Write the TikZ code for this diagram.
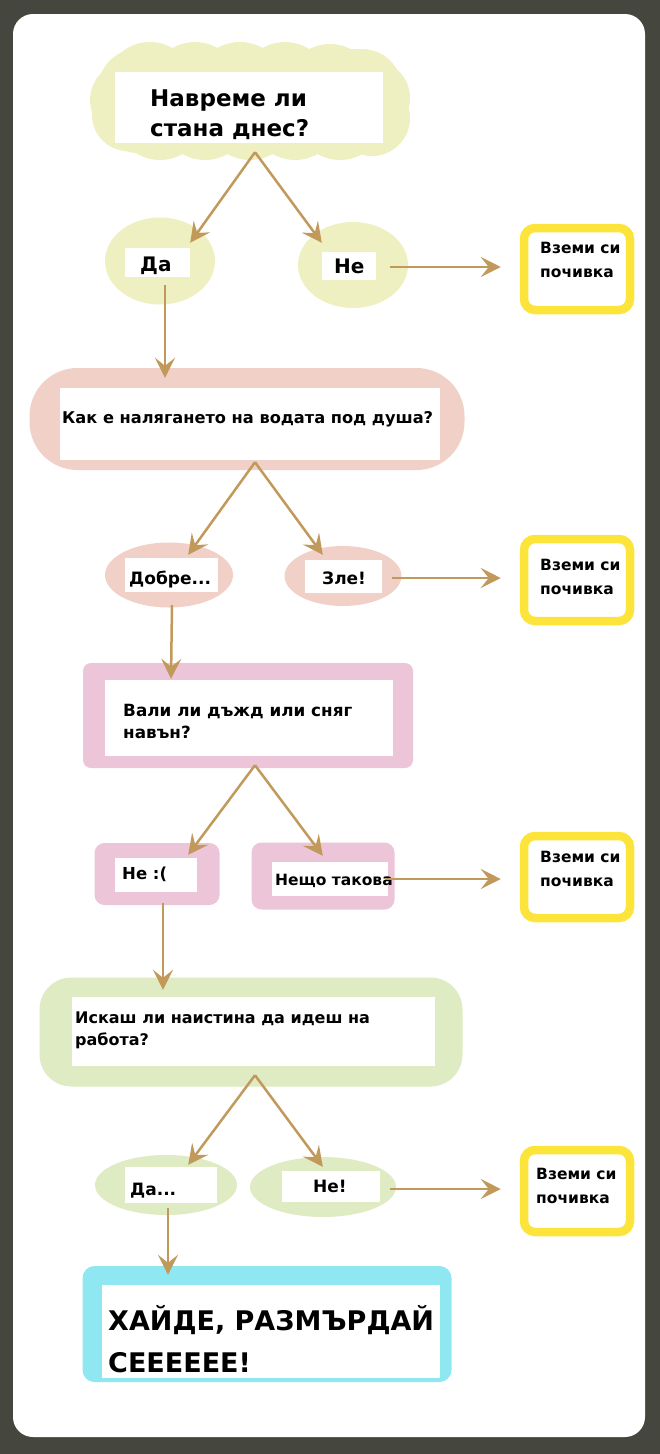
\documentclass[tikz,border=0pt]{standalone}
\usepackage{fontspec}
\setmainfont{DejaVu Sans}
\usetikzlibrary{shapes.symbols,shapes.geometric,arrows.meta}
\definecolor{bgc}{HTML}{45473F}
\definecolor{cream}{HTML}{EFF0C2}
\definecolor{salmon}{HTML}{F1D0C8}
\definecolor{mauve}{HTML}{ECC6D8}
\definecolor{lgreen}{HTML}{DFEBC3}
\definecolor{cyanc}{HTML}{8FE8F1}
\definecolor{yel}{HTML}{FCE43A}
\definecolor{arrowc}{HTML}{C19A5B}
\begin{document}
\begin{tikzpicture}[x=1pt,y=-1pt,
  blob/.style={fill=#1,draw=none,inner sep=0pt},
  wbox/.style={fill=white,draw=none,inner sep=0pt},
  ybox/.style={draw=yel,line width=8.5pt,rounded corners=11pt,fill=white,minimum width=106pt,minimum height=82pt,inner sep=0pt},
  txtS/.style={anchor=base west,inner sep=0pt,align=left,text=black,font=\fontsize{#1}{21}\selectfont\bfseries},
  txtY/.style={anchor=base west,inner sep=0pt,align=left,text=black,font=\fontsize{15.5}{24}\selectfont\bfseries},
  arr/.style={draw=arrowc,line width=2.5pt,-{Stealth[length=20pt,width=20pt,inset=8pt]}}]
\fill[bgc] (0,0) rectangle (660,1454);
\fill[white,rounded corners=20pt] (13,14) rectangle (645,1437);
% ---------- level 1
\node[blob=cream,rectangle,rounded corners=40pt,minimum width=304pt,minimum height=104pt] (q1) at (250,101) {};
\foreach \bx/\by/\br in {150/87/45,195/87/45,240/87/45,285/87/45,330/88/44,160/115/45,205/115/45,250/115/45,295/115/45,340/115/45,128/100/38,128/115/36,372/98/38,372/118/38}
  \fill[cream] (\bx,\by) circle[radius=\br];
\node[wbox,minimum width=268pt,minimum height=71pt] (q1w) at (249,107.5) {};
\node[anchor=base west,inner sep=0pt,align=left,font=\fontsize{23}{30}\selectfont\bfseries] (q1t) at (150,136) {Навреме ли\\стана днес?};
\node[blob=cream,ellipse,minimum width=110pt,minimum height=87pt] (a1) at (160,261) {};
\node[wbox,minimum width=65pt,minimum height=29pt] (a1w) at (157.5,262.5) {};
\node[anchor=base west,inner sep=0pt,font=\fontsize{20}{24}\selectfont\bfseries] (a1t) at (140,271) {Да};
\node[blob=cream,ellipse,minimum width=110pt,minimum height=86pt] (b1) at (353,265) {};
\node[wbox,minimum width=54pt,minimum height=28pt] (b1w) at (349,266) {};
\node[anchor=base west,inner sep=0pt,font=\fontsize{20}{24}\selectfont\bfseries] (b1t) at (334,273) {Не};
\node[ybox] (y1) at (577,269) {};
\node[txtY] (y1t) at (540,277) {Вземи си\\почивка};
\draw[arr] ([xshift=6pt,yshift=-9pt]q1w.south) -- ([yshift=5pt]a1w.north east);
\draw[arr] ([xshift=6pt,yshift=-9pt]q1w.south) -- ([yshift=9pt]b1w.north west);
\draw[arr] ([xshift=14pt,yshift=-1pt]b1w.east) -- ([xshift=-19pt,yshift=2pt]y1.west);
% ---------- level 2
\node[blob=salmon,rounded corners=48pt,rectangle,minimum width=435pt,minimum height=102pt] (q2) at (247,419) {};
\node[wbox,minimum width=380pt,minimum height=72pt] (q2w) at (250,424) {};
\node[txtS=16.2] (q2t) at (62,423) {Как е налягането на водата под душа?};
\draw[arr] ([xshift=7.5pt,yshift=-8pt]a1w.south) -- ([xshift=-85pt,yshift=10pt]q2w.north);
\node[blob=salmon,ellipse,minimum width=128pt,minimum height=65pt] (a2) at (169,575) {};
\node[wbox,minimum width=93pt,minimum height=34pt] (a2w) at (171.5,575) {};
\node[txtS=17] (a2t) at (129,584) {Добре...};
\node[blob=salmon,ellipse,minimum width=117pt,minimum height=60pt] (b2) at (343,576) {};
\node[wbox,minimum width=77pt,minimum height=33pt] (b2w) at (343.5,576.5) {};
\node[txtS=17] (b2t) at (322,584) {Зле!};
\node[ybox] (y2) at (577,580) {};
\node[txtY] (y2t) at (540,594) {Вземи си\\почивка};
\draw[arr] ([xshift=5pt,yshift=-2pt]q2w.south) -- ([xshift=-30pt,yshift=3pt]a2w.north east);
\draw[arr] ([xshift=5pt,yshift=-2pt]q2w.south) -- ([xshift=18pt,yshift=5pt]b2w.north west);
\draw[arr] ([xshift=10pt,yshift=-1.5pt]b2w.east) -- ([xshift=-19pt,yshift=2pt]y2.west);
% ---------- level 3
\node[blob=mauve,rounded corners=8pt,rectangle,minimum width=330pt,minimum height=105pt] (q3) at (248,715.5) {};
\node[wbox,minimum width=288pt,minimum height=76pt] (q3w) at (249,718) {};
\node[anchor=base west,inner sep=0pt,align=left,font=\fontsize{16.8}{22}\selectfont\bfseries] (q3t) at (123,738) {Вали ли дъжд или сняг\\навън?};
\draw[arr] ([xshift=0.5pt,yshift=-13pt]a2w.south) -- ([xshift=-78pt,yshift=1pt]q3w.north);
\node[blob=mauve,rounded corners=10pt,rectangle,minimum width=125pt,minimum height=62pt] (a3) at (157,874) {};
\node[wbox,minimum width=82pt,minimum height=34pt] (a3w) at (156,875) {};
\node[txtS=16.5] (a3t) at (122,879) {Не :(};
\node[blob=mauve,rounded corners=10pt,rectangle,minimum width=143pt,minimum height=67pt] (b3) at (323,876) {};
\node[wbox,minimum width=116pt,minimum height=34pt] (b3w) at (330,879) {};
\node[txtS=15.5] (b3t) at (275,885) {Нещо такова};
\node[ybox] (y3) at (577,877) {};
\node[txtY] (y3t) at (540,886) {Вземи си\\почивка};
\draw[arr] ([xshift=6pt,yshift=-9pt]q3w.south) -- ([xshift=-9pt,yshift=3pt]a3w.north east);
\draw[arr] ([xshift=6pt,yshift=-9pt]q3w.south) -- ([xshift=51pt,yshift=6pt]b3w.north west);
\draw[arr] ([xshift=-3pt]b3w.east) -- ([xshift=-19pt,yshift=-2pt]y3.west);
% ---------- level 4
\node[blob=lgreen,rounded corners=32pt,rectangle,minimum width=423pt,minimum height=109pt] (q4) at (251,1032) {};
\node[wbox,minimum width=363pt,minimum height=69pt] (q4w) at (253.5,1031.5) {};
\node[anchor=base west,inner sep=0pt,align=left,font=\fontsize{16}{22}\selectfont\bfseries] (q4t) at (75,1045) {Искаш ли наистина да идеш на\\работа?};
\draw[arr] ([xshift=7pt,yshift=-11pt]a3w.south) -- ([xshift=-90.5pt,yshift=7pt]q4w.north);
\node[blob=lgreen,ellipse,minimum width=142pt,minimum height=60pt] (a4) at (166,1185) {};
\node[wbox,minimum width=92pt,minimum height=36pt] (a4w) at (171,1185) {};
\node[txtS=17] (a4t) at (130,1195) {Да...};
\node[blob=lgreen,ellipse,minimum width=146pt,minimum height=60pt] (b4) at (323,1187) {};
\node[wbox,minimum width=98pt,minimum height=31pt] (b4w) at (331,1186.5) {};
\node[txtS=17] (b4t) at (313,1192) {Не!};
\node[ybox] (y4) at (577,1191) {};
\node[txtY] (y4t) at (536,1203) {Вземи си\\почивка};
\draw[arr] ([xshift=1.5pt,yshift=-9pt]q4w.south) -- ([xshift=-29pt,yshift=2pt]a4w.north east);
\draw[arr] ([xshift=1.5pt,yshift=-9pt]q4w.south) -- ([xshift=41pt,yshift=4pt]b4w.north west);
\draw[arr] ([xshift=10pt,yshift=-2.5pt]b4w.east) -- ([xshift=-19pt,yshift=2pt]y4.west);
% ---------- final
\node[blob=cyanc,rounded corners=12pt,rectangle,minimum width=369pt,minimum height=116pt] (fin) at (267,1324) {};
\node[wbox,minimum width=338pt,minimum height=93pt] (finw) at (271,1331.5) {};
\node[anchor=base west,inner sep=0pt,align=left,font=\fontsize{27}{42}\selectfont\bfseries] (fint) at (108,1372) {ХАЙДЕ, РАЗМЪРДАЙ\\СЕЕЕЕЕЕ!};
\draw[arr] ([xshift=-3pt,yshift=-5pt]a4w.south) -- ([xshift=-103pt,yshift=10pt]finw.north);
\end{tikzpicture}
\end{document}
